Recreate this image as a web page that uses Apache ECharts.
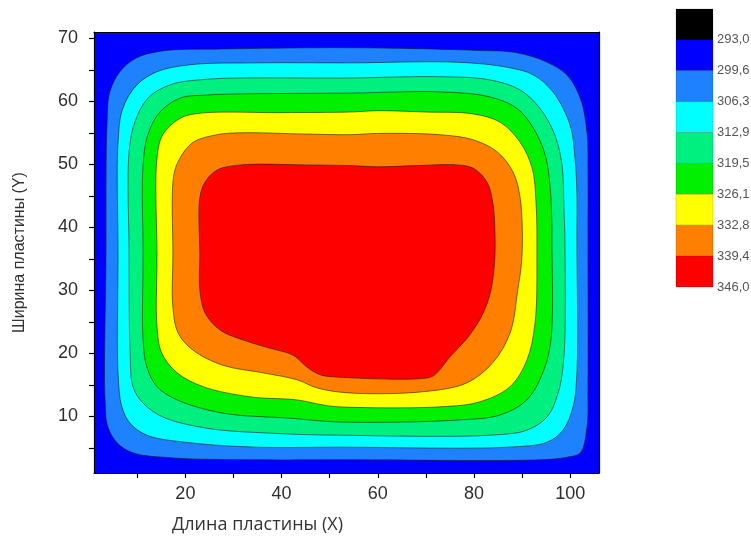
<!DOCTYPE html>
<html>
<head>
<meta charset="utf-8">
<script src="https://cdn.jsdelivr.net/npm/echarts@6/dist/echarts.min.js"></script>
<style>
  html, body { margin: 0; padding: 0; background: #ffffff; }
  #chart { width: 751px; height: 545px; }
</style>
</head>
<body>
<div id="chart"></div>
<script>
// Temperature levels (K) that separate the colour bands
const LEVELS = [293.0, 299.6, 306.3, 312.9, 319.5, 326.1, 332.8, 339.4, 346.0];
// Band colours: below 293.0, then one colour per interval between levels
const BAND_COLORS = ['#000000', '#0000ff', '#1e82ff', '#00ffff', '#00f080', '#00f000', '#ffff00', '#ff8000', '#ff0000'];

// Plate extent (length X, width Y)
const PLATE_X = [1, 106];
const PLATE_Y = [1, 71];

// Axis ticks and labels
const X_TICKS = [10, 20, 30, 40, 50, 60, 70, 80, 90, 100];
const X_LABELS = [20, 40, 60, 80, 100];
const Y_TICKS = [5, 10, 15, 20, 25, 30, 35, 40, 45, 50, 55, 60, 65, 70];
const Y_LABELS = [10, 20, 30, 40, 50, 60, 70];

// Isotherms as closed [x, y] outlines in plate coordinates
const ISO_299_6 = [[9.9,66.9],[15.3,68.0],[27.8,68.3],[54.2,68.5],[79.8,68.1],[88.9,67.7],[95.2,66.2],[99.3,64.2],[102.1,60.5],[103.5,55.1],[103.7,48.3],[103.7,38.0],[103.7,14.2],[103.5,8.3],[102.1,4.2],[99.3,3.5],[93.7,3.1],[52.1,3.1],[34.9,3.1],[17.4,3.4],[9.1,4.2],[5.8,5.8],[3.9,8.3],[3.3,12.6],[3.5,35.6],[3.7,56.2],[4.3,61.5],[6.4,64.7]];
const ISO_306_3 = [[14.1,64.7],[21.0,65.8],[34.9,66.1],[54.2,66.1],[76.5,66.2],[86.9,65.4],[92.3,64.2],[96.4,61.5],[100.0,56.2],[101.0,51.0],[101.4,45.6],[101.4,38.0],[101.4,16.9],[100.6,11.5],[98.5,7.8],[95.2,5.9],[86.9,5.1],[52.1,5.1],[34.9,5.1],[21.0,5.8],[12.0,7.0],[8.5,8.9],[6.8,11.5],[6.0,16.9],[6.0,35.6],[6.0,53.5],[7.0,58.9],[9.9,62.6]];
const ISO_312_9 = [[16.8,62.6],[24.5,63.5],[54.2,63.7],[72.9,63.9],[83.3,63.4],[89.6,61.8],[93.7,58.9],[96.8,54.7],[98.3,49.9],[98.7,43.1],[98.9,38.0],[98.7,19.4],[97.5,13.7],[95.2,9.9],[91.0,7.8],[83.3,7.0],[52.1,7.0],[38.2,7.3],[24.5,8.1],[15.3,9.9],[11.2,12.1],[9.1,14.7],[8.5,20.5],[8.3,35.6],[8.3,52.0],[9.5,56.7],[12.2,60.5]];
const ISO_319_5 = [[18.9,60.5],[24.5,61.0],[54.2,61.3],[72.9,61.5],[83.3,60.7],[88.9,58.9],[92.3,55.8],[94.8,51.5],[95.8,46.7],[96.2,40.4],[96.2,38.0],[96.0,22.1],[94.3,16.9],[91.0,12.6],[85.4,10.2],[76.5,9.4],[52.1,9.1],[41.7,9.7],[27.8,10.5],[18.3,12.6],[14.1,14.7],[12.0,17.8],[11.2,22.1],[11.2,35.6],[11.2,49.9],[12.2,54.7],[14.7,58.3]];
const ISO_326_1 = [[23.0,58.1],[40.0,58.2],[54.2,58.3],[60.0,58.5],[70.0,58.3],[79.8,58.0],[85.4,56.7],[89.6,53.5],[92.1,49.4],[92.9,44.0],[93.1,35.6],[92.7,24.8],[91.0,18.9],[87.5,14.7],[81.2,12.3],[72.9,11.5],[52.1,11.5],[48.6,11.8],[43.2,12.6],[33.4,13.1],[23.7,14.7],[18.3,16.9],[15.1,20.0],[14.1,24.2],[14.1,35.6],[14.1,51.0],[15.3,54.7],[18.9,57.3]];
const ISO_332_8 = [[26.6,54.7],[31.4,55.0],[45.0,54.8],[54.2,54.7],[60.0,54.9],[72.9,54.7],[79.8,53.9],[84.8,52.0],[88.1,48.8],[89.6,44.7],[90.0,35.6],[89.1,30.0],[87.5,23.2],[83.9,18.5],[78.5,15.3],[69.4,13.9],[54.2,13.7],[47.4,14.5],[43.2,15.8],[36.1,16.9],[27.8,18.1],[21.6,20.5],[18.5,23.2],[17.4,27.3],[17.4,35.6],[17.6,48.3],[18.9,51.0],[21.6,53.5]];
const ISO_339_4 = [[26.6,49.1],[31.4,49.9],[45.0,49.9],[54.2,49.8],[60.0,49.6],[68.0,49.8],[76.5,49.9],[79.8,49.4],[82.7,47.2],[83.9,44.0],[84.4,38.5],[84.2,33.5],[83.2,29.0],[81.4,25.6],[78.6,22.4],[75.2,19.6],[72.3,16.9],[70.9,16.2],[52.1,16.2],[48.0,16.6],[45.3,17.8],[42.4,19.7],[37.6,20.8],[32.0,22.1],[27.2,23.7],[24.1,26.4],[23.0,30.0],[23.0,35.6],[23.0,44.7],[24.1,47.2]];

// Isotherms in order of increasing temperature (LEVELS[1] .. LEVELS[7])
const ISOTHERMS = [ISO_299_6, ISO_306_3, ISO_312_9, ISO_319_5, ISO_326_1, ISO_332_8, ISO_339_4];

const fmtLevel = v => v.toFixed(1).replace('.', ',');

// Closed centripetal Catmull-Rom curve through pixel points, as SVG path data
function closedCurvePath(pts) {
  const n = pts.length;
  const dist = (a, b) => Math.sqrt(Math.hypot(b[0] - a[0], b[1] - a[1])) || 1e-6;
  let d = 'M' + pts[0][0].toFixed(2) + ',' + pts[0][1].toFixed(2);
  for (let i = 0; i < n; i++) {
    const p0 = pts[(i - 1 + n) % n], p1 = pts[i], p2 = pts[(i + 1) % n], p3 = pts[(i + 2) % n];
    const d1 = dist(p0, p1), d2 = dist(p1, p2), d3 = dist(p2, p3);
    const d1s = d1 * d1, d2s = d2 * d2, d3s = d3 * d3;
    const c1 = [0, 1].map(j => (d1s * p2[j] - d2s * p0[j] + (2 * d1s + 3 * d1 * d2 + d2s) * p1[j]) / (3 * d1 * (d1 + d2)));
    const c2 = [0, 1].map(j => (d3s * p1[j] - d2s * p3[j] + (2 * d3s + 3 * d3 * d2 + d2s) * p2[j]) / (3 * d3 * (d3 + d2)));
    d += ' C' + c1.map(v => v.toFixed(2)).join(',') + ' ' + c2.map(v => v.toFixed(2)).join(',') + ' ' + p2[0].toFixed(2) + ',' + p2[1].toFixed(2);
  }
  return d + ' Z';
}

const chart = echarts.init(document.getElementById('chart'), null, { renderer: 'canvas' });

const tickLabelStyle = {
  fontFamily: '"Liberation Sans", Arial, sans-serif',
  fontSize: 18,
  color: '#2e2e2e'
};

chart.setOption({
  animation: false,
  backgroundColor: '#ffffff',
  grid: [
    { left: 94, top: 32, width: 505, height: 441, outerBoundsMode: 'none' },
    { left: 676, top: 9, width: 37, height: 278, outerBoundsMode: 'none' }
  ],
  xAxis: [
    {
      gridIndex: 0, type: 'value', min: PLATE_X[0], max: PLATE_X[1], position: 'bottom', z: 5,
      axisLine: { show: true, onZero: false, lineStyle: { color: '#000', width: 1.2 } },
      axisTick: { show: true, customValues: X_TICKS, length: 5, lineStyle: { color: '#000', width: 1.2 } },
      axisLabel: Object.assign({ customValues: X_LABELS, margin: 12 }, tickLabelStyle),
      splitLine: { show: false }
    },
    {
      gridIndex: 1, type: 'value', min: 0, max: 1, show: false
    },
    {
      gridIndex: 0, type: 'value', min: PLATE_X[0], max: PLATE_X[1], position: 'top', z: 5,
      axisLine: { show: true, onZero: false, lineStyle: { color: '#000', width: 1.2 } },
      axisTick: { show: false }, axisLabel: { show: false }, splitLine: { show: false }
    }
  ],
  yAxis: [
    {
      gridIndex: 0, type: 'value', min: PLATE_Y[0], max: PLATE_Y[1], position: 'left', z: 5,
      name: 'Ширина пластины (Y)', nameLocation: 'middle', nameGap: 66, nameRotate: 90,
      nameTextStyle: { fontFamily: '"Liberation Sans", Arial, sans-serif', fontSize: 16, color: '#333' },
      axisLine: { show: true, onZero: false, lineStyle: { color: '#000', width: 1.2 } },
      axisTick: { show: true, customValues: Y_TICKS, length: 5, lineStyle: { color: '#000', width: 1.2 } },
      axisLabel: Object.assign({ customValues: Y_LABELS, margin: 16 }, tickLabelStyle),
      splitLine: { show: false }
    },
    {
      gridIndex: 1, type: 'value', min: 0, max: LEVELS.length, inverse: true, position: 'right',
      axisLine: { show: false }, axisTick: { show: false }, splitLine: { show: false },
      axisLabel: {
        customValues: LEVELS.map((v, i) => i + 1),
        formatter: v => fmtLevel(LEVELS[v - 1]),
        margin: 4, fontFamily: '"Liberation Sans", Arial, sans-serif', fontSize: 13, color: '#555'
      }
    },
    {
      gridIndex: 0, type: 'value', min: PLATE_Y[0], max: PLATE_Y[1], position: 'right', z: 5,
      axisLine: { show: true, onZero: false, lineStyle: { color: '#000', width: 1.2 } },
      axisTick: { show: false }, axisLabel: { show: false }, splitLine: { show: false }
    }
  ],
  graphic: [
    {
      type: 'text', left: 172, top: 516, silent: true,
      style: { text: 'Длина пластины (X)', font: '18px "Open Sans", sans-serif', fill: '#333' }
    }
  ],
  series: [
    {
      // plate base band
      type: 'custom', xAxisIndex: 0, yAxisIndex: 0, z: 1, silent: true,
      data: [[PLATE_X[0], PLATE_Y[0], PLATE_X[1], PLATE_Y[1]]],
      renderItem: (params, api) => {
        const a = api.coord([api.value(0), api.value(1)]);
        const b = api.coord([api.value(2), api.value(3)]);
        return {
          type: 'rect',
          shape: { x: Math.min(a[0], b[0]), y: Math.min(a[1], b[1]), width: Math.abs(b[0] - a[0]), height: Math.abs(b[1] - a[1]) },
          style: { fill: BAND_COLORS[1] }
        };
      }
    },
    {
      // filled isotherm regions, coolest first
      type: 'custom', xAxisIndex: 0, yAxisIndex: 0, z: 2, silent: true,
      data: ISOTHERMS.map((line, k) => [k]),
      renderItem: (params, api) => {
        const k = params.dataIndex;
        const pts = ISOTHERMS[k].map(p => api.coord(p));
        return {
          type: 'path',
          shape: { pathData: closedCurvePath(pts) },
          style: { fill: BAND_COLORS[k + 2], stroke: 'rgba(20,20,20,0.7)', lineWidth: 0.8 }
        };
      }
    },
    {
      // colour scale
      type: 'custom', xAxisIndex: 1, yAxisIndex: 1, silent: true,
      data: BAND_COLORS.map((c, i) => [i]),
      renderItem: (params, api) => {
        const i = params.dataIndex;
        const a = api.coord([0, i]);
        const b = api.coord([1, i + 1]);
        return {
          type: 'rect',
          shape: { x: a[0], y: Math.min(a[1], b[1]), width: b[0] - a[0], height: Math.abs(b[1] - a[1]) },
          style: { fill: BAND_COLORS[i], stroke: 'rgba(0,0,0,0.25)', lineWidth: 0.6 }
        };
      }
    }
  ]
});
</script>
</body>
</html>
